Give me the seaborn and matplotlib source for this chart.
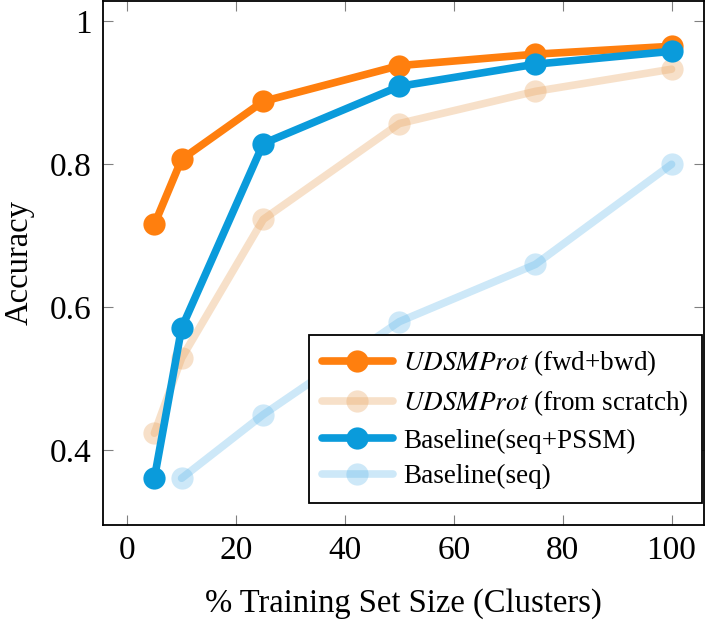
import numpy as np
import pandas as pd
import matplotlib
matplotlib.use("Agg")
import matplotlib.pyplot as plt
from matplotlib.ticker import FuncFormatter
import seaborn as sns

# data
x_full = [5, 10, 25, 50, 75, 100]
x_seq = [10, 25, 50, 75, 100]
acc_fwd_bwd = [0.716, 0.807, 0.888, 0.938, 0.954, 0.965]
acc_scratch = [0.424, 0.529, 0.723, 0.857, 0.902, 0.933]
acc_pssm = [0.361, 0.571, 0.829, 0.909, 0.940, 0.958]
acc_seq = [0.361, 0.450, 0.580, 0.660, 0.800]

x_ticks = [0, 20, 40, 60, 80, 100]
y_ticks = [0.4, 0.6, 0.8, 1.0]

ORANGE = "#FF7F0E"
TAN = "#E9A865"
BLUE = "#0A9BDB"
LIGHTBLUE = "#5AB4E8"

sns.set_style("ticks")
plt.rcParams["font.family"] = ["Liberation Serif", "DejaVu Serif"]
plt.rcParams["mathtext.fontset"] = "stix"
plt.rcParams["text.color"] = "black"
plt.rcParams["axes.labelcolor"] = "black"
plt.rcParams["xtick.labelcolor"] = "black"
plt.rcParams["ytick.labelcolor"] = "black"

fig = plt.figure(figsize=(7.23, 6.21), dpi=100)
ax = fig.add_axes([0.142, 0.155, 0.832, 0.843])

series = [
    (x_full, acc_fwd_bwd, ORANGE, 1.0, "UDSMProt", " (fwd+bwd)"),
    (x_full, acc_scratch, TAN, 0.35, "UDSMProt", " (from scratch)"),
    (x_full, acc_pssm, BLUE, 1.0, "", "Baseline(seq+PSSM)"),
    (x_seq, acc_seq, LIGHTBLUE, 0.3, "", "Baseline(seq)"),
]

for xs, ys, col, a, ital, rest in series:
    label = (r"$\it{" + ital + "}$" + rest) if ital else rest
    df = pd.DataFrame({"x": xs, "y": ys})
    sns.lineplot(data=df, x="x", y="y", ax=ax, color=col, alpha=a,
                 linewidth=5.5, marker="o", markersize=16,
                 markeredgewidth=0, label=label)

ax.set_xlim(-4.5, 106)
ax.set_ylim(0.296, 1.028)
ax.set_xticks(x_ticks)
ax.set_yticks(y_ticks)
ax.yaxis.set_major_formatter(FuncFormatter(lambda v, p: f"{v:g}"))
ax.tick_params(direction="in", top=True, right=True, length=7,
               color="#808080", labelsize=24, pad=8)
for s in ax.spines.values():
    s.set_linewidth(1.3)
    s.set_color("black")

ax.set_xlabel("% Training Set Size (Clusters)", fontsize=23.5)
ax.set_ylabel("Accuracy", fontsize=23.5)
ax.xaxis.set_label_coords(0.5, -0.122)
ax.yaxis.set_label_coords(-0.138, 0.5)
ax.yaxis.label.set_va("center")

leg = ax.legend(loc="lower right", fontsize=19.5, frameon=True, fancybox=False,
                edgecolor="black", framealpha=1, borderpad=0.5,
                handlelength=2.6, handletextpad=0.4, labelspacing=0.38,
                borderaxespad=0, bbox_to_anchor=(0.997, 0.042))
leg.get_frame().set_linewidth(1.3)

fig.savefig("out.png", dpi=100)
